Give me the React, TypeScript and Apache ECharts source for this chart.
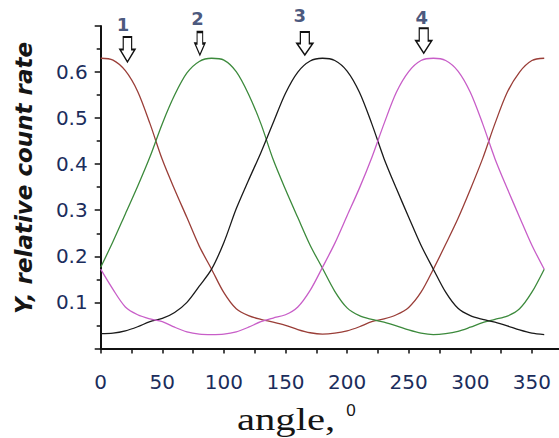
import React, { useEffect, useRef } from "react";
import * as echarts from "echarts";

const angles = [0, 10, 20, 30, 40, 50, 60, 70, 80, 90, 100, 110, 120, 130, 140, 150, 160, 170, 180, 190, 200, 210, 220, 230, 240, 250, 260, 270, 280, 290, 300, 310, 320, 330, 340, 350, 360];

const curve1 = [0.630, 0.626, 0.603, 0.558, 0.488, 0.410, 0.345, 0.284, 0.222, 0.172, 0.121, 0.086, 0.071, 0.063, 0.057, 0.050, 0.041, 0.034, 0.031, 0.033, 0.038, 0.047, 0.058, 0.064, 0.073, 0.089, 0.122, 0.172, 0.226, 0.282, 0.345, 0.412, 0.488, 0.556, 0.600, 0.625, 0.630];
const curve2 = [0.176, 0.232, 0.292, 0.352, 0.416, 0.488, 0.550, 0.598, 0.623, 0.630, 0.626, 0.601, 0.552, 0.488, 0.410, 0.345, 0.284, 0.224, 0.174, 0.124, 0.088, 0.071, 0.063, 0.057, 0.049, 0.040, 0.033, 0.030, 0.032, 0.037, 0.046, 0.056, 0.063, 0.070, 0.086, 0.122, 0.172];
const curve3 = [0.032, 0.033, 0.038, 0.047, 0.058, 0.065, 0.078, 0.100, 0.135, 0.172, 0.230, 0.303, 0.365, 0.425, 0.490, 0.554, 0.600, 0.624, 0.630, 0.625, 0.602, 0.556, 0.488, 0.412, 0.347, 0.285, 0.224, 0.172, 0.122, 0.087, 0.071, 0.063, 0.057, 0.049, 0.040, 0.033, 0.030];
const curve4 = [0.172, 0.128, 0.090, 0.073, 0.064, 0.058, 0.046, 0.036, 0.031, 0.030, 0.031, 0.036, 0.046, 0.058, 0.066, 0.073, 0.090, 0.126, 0.176, 0.228, 0.288, 0.348, 0.414, 0.488, 0.556, 0.601, 0.625, 0.630, 0.625, 0.602, 0.556, 0.488, 0.412, 0.347, 0.285, 0.224, 0.172];

const xTickValues = [0, 25, 50, 75, 100, 125, 150, 175, 200, 225, 250, 275, 300, 325, 350];
const xLabelValues = [0, 50, 100, 150, 200, 250, 300, 350];

const arrowAngles = [21.7, 80.5, 165.7, 262.2];
const arrowValues = [0.649, 0.662, 0.662, 0.668];
const numberLabels = ["1", "2", "3", "4"];
const numberAngles = [18.1, 78.5, 161.6, 260.6];
const numberValues = [0.704, 0.717, 0.722, 0.718];

const arrowSizes = [[15, 25], [10, 23], [16, 23], [16, 25]];

const labelColor = "#1b2d5c";
const axisColor = "#111111";

export default function App() {
  const ref = useRef<HTMLDivElement>(null);
  useEffect(() => {
    if (!ref.current) return;
    const chart = echarts.init(ref.current, null, { renderer: "svg" });
    const mk = (vals: number[]) => angles.map((a, i) => [a, vals[i]]);
    const lineSeries = (name: string, vals: number[], color: string) => ({
      name,
      type: "line",
      data: mk(vals),
      showSymbol: false,
      symbol: "none",
      smooth: 0.3,
      lineStyle: { color, width: 1.3 },
      z: 2,
    });
    chart.setOption({
      animation: false,
      backgroundColor: "#ffffff",
      grid: { left: 100.7, right: 0, top: 26, bottom: 89.6, containLabel: false },
      xAxis: {
        type: "value",
        min: 0,
        max: 372,
        interval: 50,
        axisLine: { show: true, onZero: false, lineStyle: { color: axisColor, width: 2 } },
        axisTick: { show: true, customValues: xTickValues, length: 5, lineStyle: { color: axisColor, width: 1.5 } },
        minorTick: { show: false },
        splitLine: { show: false },
        axisLabel: {
          customValues: xLabelValues,
          margin: 24,
          fontSize: 20,
          fontFamily: "DejaVu Sans",
          color: labelColor,
        },
      },
      yAxis: {
        type: "value",
        min: 0,
        max: 0.7,
        interval: 0.1,
        axisLine: { show: true, onZero: false, lineStyle: { color: axisColor, width: 2 } },
        axisTick: { show: true, length: 6, lineStyle: { color: axisColor, width: 1.5 } },
        minorTick: { show: true, splitNumber: 2, length: 4, lineStyle: { color: axisColor, width: 1.5 } },
        splitLine: { show: false },
        minorSplitLine: { show: false },
        axisLabel: {
          showMinLabel: false,
          showMaxLabel: false,
          margin: 13,
          fontSize: 20,
          fontFamily: "DejaVu Sans",
          color: labelColor,
          formatter: (v: number) => v.toFixed(1),
        },
      },
      graphic: [
        {
          type: "text",
          x: 24,
          y: 178,
          rotation: Math.PI / 2,
          style: {
            text: "Y, relative count rate",
            font: 'italic bold 23px "DejaVu Sans"',
            fill: "#151515",
            align: "center",
            verticalAlign: "middle",
          },
        },
        {
          type: "text",
          x: 237,
          y: 419,
          scaleX: 1.27,
          style: {
            text: "angle,",
            font: '32px "Liberation Serif"',
            fill: "#151515",
            align: "left",
            verticalAlign: "middle",
          },
        },
        {
          type: "text",
          x: 351,
          y: 410,
          style: {
            text: "0",
            font: '17px "Liberation Sans"',
            fill: "#151515",
            align: "center",
            verticalAlign: "middle",
          },
        },
      ],
      series: [
        lineSeries("1", curve1, "#9a3e38"),
        lineSeries("2", curve2, "#3c8a3c"),
        lineSeries("3", curve3, "#1a1a1a"),
        lineSeries("4", curve4, "#c85ec8"),
        {
          name: "arrows",
          type: "scatter",
          clip: false,
          symbol: "path://M22,0 L78,0 L78,50 L100,50 L50,100 L0,50 L22,50 Z",
          data: arrowAngles.map((a, i) => ({ value: [a, arrowValues[i]], symbolSize: arrowSizes[i] })),
          itemStyle: { color: "#ffffff", borderColor: "#111111", borderWidth: 1.5, opacity: 1 },
          z: 5,
        },
        {
          name: "numbers",
          type: "scatter",
          clip: false,
          symbolSize: 1,
          data: numberAngles.map((a, i) => ({ value: [a, numberValues[i]], name: numberLabels[i] })),
          itemStyle: { color: "rgba(0,0,0,0)" },
          label: {
            show: true,
            position: "inside",
            formatter: "{b}",
            fontSize: 18,
            fontWeight: "bold",
            fontFamily: "DejaVu Sans",
            color: labelColor,
          },
          z: 6,
        },
      ],
    });
    return () => chart.dispose();
  }, []);
  return <div ref={ref} style={{ position: "absolute", left: 0, top: 0, width: 559, height: 438 }} />;
}
